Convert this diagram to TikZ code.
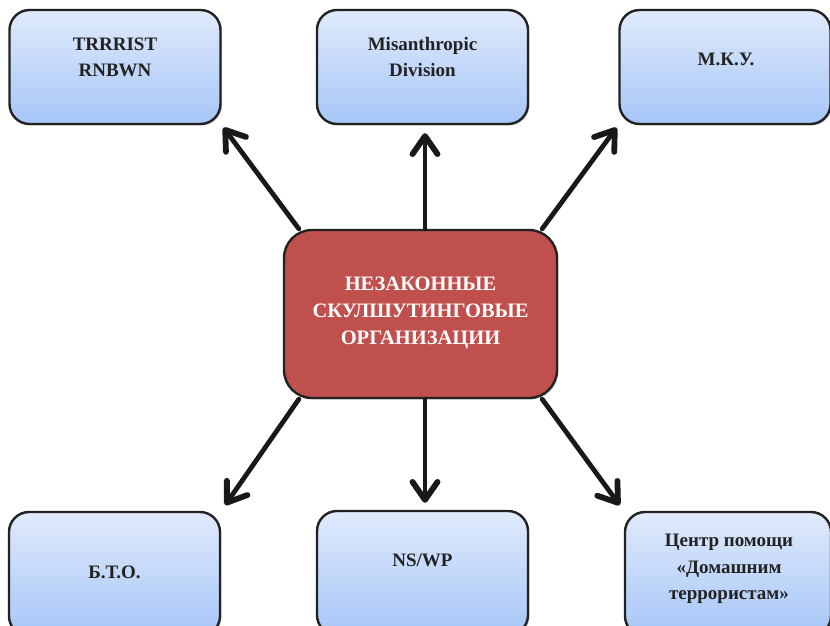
\documentclass[tikz,border=0pt]{standalone}
\usepackage{fontspec}
\setmainfont{Liberation Serif}
\usetikzlibrary{arrows.meta,shadows}
\definecolor{boxtop}{HTML}{E0EAFB}
\definecolor{boxbot}{HTML}{A6C6F8}
\definecolor{cred}{HTML}{C0504D}
\definecolor{ink}{HTML}{222222}
\begin{document}
\begin{tikzpicture}[x=1pt,y=-1pt,
  bluebox/.style={draw=ink, line width=2.4pt, rounded corners=20pt,
    top color=boxtop, bottom color=boxbot, minimum width=211pt, minimum height=114pt,
    inner sep=0pt, drop shadow={shadow xshift=1.5pt, shadow yshift=-1.5pt, opacity=0.35}},
  redbox/.style={draw=ink, line width=2.4pt, rounded corners=28pt, fill=cred,
    minimum width=273pt, minimum height=168pt, inner sep=0pt,
    drop shadow={shadow xshift=1.5pt, shadow yshift=-1.5pt, opacity=0.35}},
  lbl/.style={align=center, text=ink, font=\fontsize{19}{26.5}\selectfont\bfseries},
  clbl/.style={align=center, text=white, font=\fontsize{20.5}{27}\selectfont\bfseries},
  arr/.style={draw=black!90, line width=4.8pt, line cap=round,
    -{Straight Barb[length=18pt,width=25pt,line width=5.8pt,round]}}
]
\useasboundingbox (0,0) rectangle (830,625);
\clip (0,0) rectangle (830,625);
% boxes
\node[bluebox] (tl) at (115,67) {};
\node[bluebox] (tm) at (422.5,67) {};
\node[bluebox] (tr) at (725,67) {};
\node[bluebox, minimum height=124pt] (bl) at (114.5,574) {};
\node[bluebox, minimum height=124pt] (bm) at (422.5,573) {};
\node[bluebox, minimum height=124pt, minimum width=206pt] (br) at (728,574) {};
\node[redbox] (c) at (420.5,314) {};
% labels
\node[lbl] (tlt) at (115,57.5) {TRRRIST\\RNBWN};
\node[lbl] (tmt) at (422.5,57) {Misanthropic\\Division};
\node[lbl] (trt) at (726,59) {М.К.У.};
\node[lbl] (blt) at (114.5,572) {Б.Т.О.};
\node[lbl] (bmt) at (422.5,560) {NS/WP};
\node[lbl] (brt) at (729,569) {Центр помощи\\«Домашним\\террористам»};
\node[clbl] (ct) at (420.5,313) {НЕЗАКОННЫЕ\\СКУЛШУТИНГОВЫЕ\\ОРГАНИЗАЦИИ};
% arrows
\draw[arr, shorten >=3pt] (c.145) -- (tl.south east);
\draw[arr, shorten >=8pt] ([xshift=4.5pt]c.north) -- ([xshift=2.5pt]tm.south);
\draw[arr, shorten >=3pt] (c.35) -- (tr.south west);
\draw[arr, shorten >=7pt] (c.215) -- (bl.north east);
\draw[arr, shorten >=7pt] ([xshift=4.5pt]c.south) -- ([xshift=2.5pt]bm.north);
\draw[arr, shorten >=7pt] (c.325) -- (br.north west);
\end{tikzpicture}
\end{document}
